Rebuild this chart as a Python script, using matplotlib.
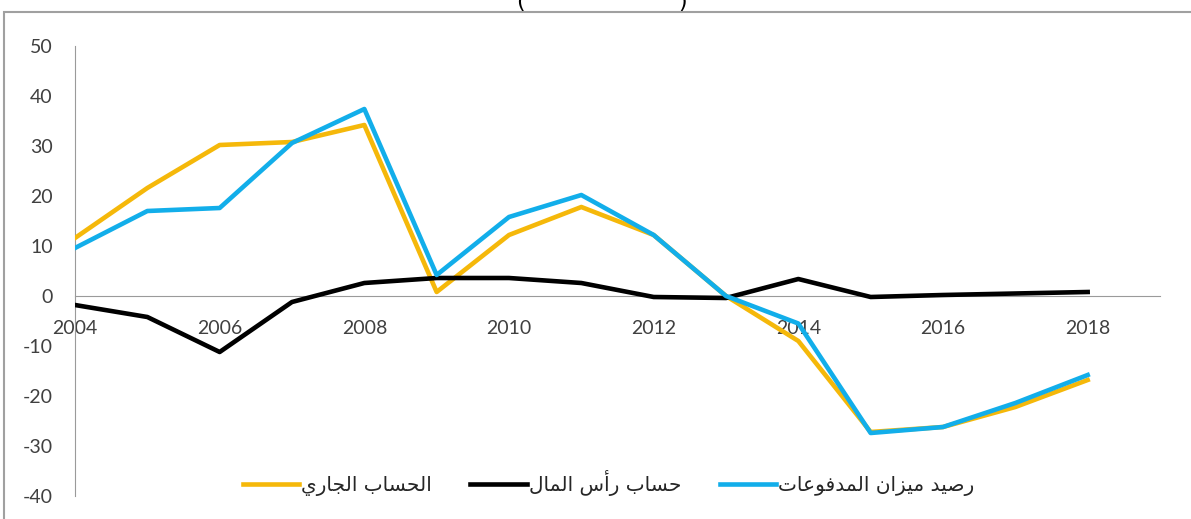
import matplotlib
matplotlib.use("Agg")
import matplotlib.pyplot as plt
from matplotlib.patches import Rectangle

plt.rcParams["axes.unicode_minus"] = False

years = list(range(2004, 2019))
current_account = [11.6, 21.6, 30.2, 30.8, 34.2, 0.8, 12.2, 17.8, 12.2, 0.0, -9.0, -27.2, -26.2, -22.2, -16.8]
capital_account = [-1.8, -4.2, -11.2, -1.2, 2.6, 3.6, 3.6, 2.6, -0.2, -0.4, 3.4, -0.2, 0.2, 0.5, 0.8]
balance_payments = [9.6, 17.0, 17.6, 30.6, 37.4, 4.2, 15.8, 20.2, 12.2, 0.0, -5.5, -27.4, -26.2, -21.4, -15.8]
x_ticks = [2004, 2006, 2008, 2010, 2012, 2014, 2016, 2018]
y_ticks = [-40, -30, -20, -10, 0, 10, 20, 30, 40, 50]

labels = ["الحساب الجاري", "حساب رأس المال", "رصيد ميزان المدفوعات"]

# matplotlib does no Arabic shaping, so pick presentation forms by hand
# forms: isolated, final, initial, medial (None = letter does not join forward)
FORMS = {
    "ا": ("\ufe8d", "\ufe8e", None, None),
    "أ": ("\ufe83", "\ufe84", None, None),
    "ب": ("\ufe8f", "\ufe90", "\ufe91", "\ufe92"),
    "ت": ("\ufe95", "\ufe96", "\ufe97", "\ufe98"),
    "ج": ("\ufe9d", "\ufe9e", "\ufe9f", "\ufea0"),
    "ح": ("\ufea1", "\ufea2", "\ufea3", "\ufea4"),
    "د": ("\ufea9", "\ufeaa", None, None),
    "ر": ("\ufead", "\ufeae", None, None),
    "ز": ("\ufeaf", "\ufeb0", None, None),
    "س": ("\ufeb1", "\ufeb2", "\ufeb3", "\ufeb4"),
    "ص": ("\ufeb9", "\ufeba", "\ufebb", "\ufebc"),
    "ع": ("\ufec9", "\ufeca", "\ufecb", "\ufecc"),
    "ف": ("\ufed1", "\ufed2", "\ufed3", "\ufed4"),
    "ل": ("\ufedd", "\ufede", "\ufedf", "\ufee0"),
    "م": ("\ufee1", "\ufee2", "\ufee3", "\ufee4"),
    "ن": ("\ufee5", "\ufee6", "\ufee7", "\ufee8"),
    "و": ("\ufeed", "\ufeee", None, None),
    "ي": ("\ufef1", "\ufef2", "\ufef3", "\ufef4"),
}


def shape_arabic(text):
    out = []
    for i, ch in enumerate(text):
        if ch not in FORMS:
            out.append(ch)
            continue
        prev = text[i - 1] if i > 0 else " "
        nxt = text[i + 1] if i + 1 < len(text) else " "
        joins_prev = prev in FORMS and FORMS[prev][2] is not None
        joins_next = nxt in FORMS and FORMS[ch][2] is not None
        iso, fin, ini, med = FORMS[ch]
        if joins_prev and joins_next:
            out.append(med)
        elif joins_prev:
            out.append(fin)
        elif joins_next:
            out.append(ini)
        else:
            out.append(iso)
    return "".join(out)[::-1]


fig = plt.figure(figsize=(11.91, 5.19), dpi=100)
ax = fig.add_axes([75 / 1191, 1 - 496 / 519, (1160 - 75) / 1191, 450 / 519])

ax.plot(years, current_account, color="#F5B80A", lw=3.3, label=shape_arabic(labels[0]), zorder=3)
ax.plot(years, capital_account, color="black", lw=3.3, label=shape_arabic(labels[1]), zorder=4)
ax.plot(years, balance_payments, color="#12AEEA", lw=3.3, label=shape_arabic(labels[2]), zorder=5)

ax.set_xlim(2004, 2019)
ax.set_ylim(-40, 50)
ax.set_xticks(x_ticks)
ax.set_yticks(y_ticks)

for s in ["top", "right"]:
    ax.spines[s].set_visible(False)
ax.spines["bottom"].set_position(("data", 0))
ax.spines["bottom"].set_color("#9a9a9a")
ax.spines["left"].set_color("#9a9a9a")
ax.spines["bottom"].set_zorder(1)

ax.tick_params(axis="x", length=0, pad=17, labelsize=14, labelcolor="#404040")
ax.tick_params(axis="y", length=0, pad=16, labelsize=14, labelcolor="#404040")
for t in ax.get_xticklabels() + ax.get_yticklabels():
    t.set_family(["Lato", "DejaVu Sans"])

leg = fig.legend(loc="center", bbox_to_anchor=(0.511, 0.069), ncol=3, frameon=False,
                 prop={"family": "DejaVu Sans", "size": 14.5}, handlelength=2.8,
                 handletextpad=0.1, columnspacing=1.9)
for t in leg.get_texts():
    t.set_color("#262626")

# outer chart frame and the clipped title above it
fig.patches.append(Rectangle((4 / 1191, -0.02), 1.0, 1 - 12 / 519 + 0.02,
                             transform=fig.transFigure, fill=False,
                             edgecolor="#a0a0a0", lw=1.5))
fig.text(520 / 1191, 0.985, "(", fontsize=16, ha="center", va="baseline", color="black")
fig.text(683 / 1191, 0.985, ")", fontsize=16, ha="center", va="baseline", color="black")

fig.savefig("out.png", dpi=100)
